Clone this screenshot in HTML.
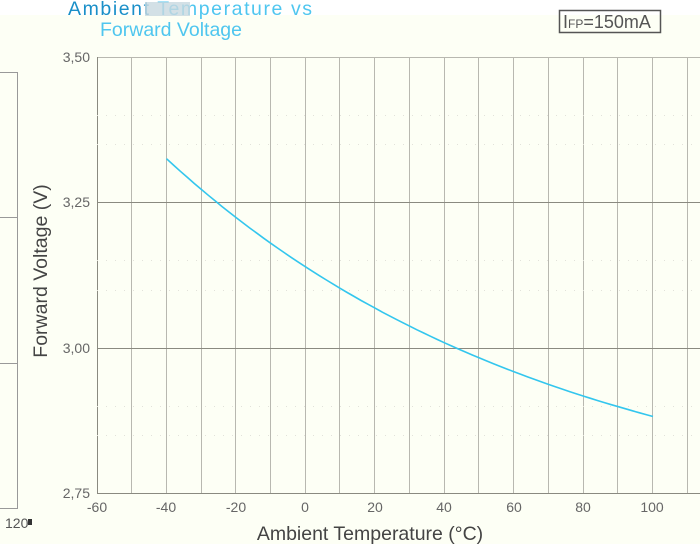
<!DOCTYPE html>
<html><head><meta charset="utf-8"><style>
html,body{margin:0;padding:0;background:#fdfff5;}
svg{display:block;font-family:"Liberation Sans",sans-serif;}
</style></head><body>
<svg width="700" height="544" viewBox="0 0 700 544" xmlns="http://www.w3.org/2000/svg">
<rect width="700" height="544" fill="#fdfff5"/>
<rect width="700" height="15" fill="#ffffff"/>
<path d="M0 72.5 H17.5 V508.5 H0" fill="none" stroke="#999" stroke-width="1"/>
<line x1="0" y1="217.5" x2="17" y2="217.5" stroke="#999"/>
<line x1="0" y1="363.5" x2="17" y2="363.5" stroke="#999"/>
<text x="5" y="528" font-size="14" fill="#555">120</text>
<rect x="28" y="519" width="4" height="6" fill="#333"/>
<g stroke="#b8b8b0" stroke-width="1">
<line x1="131.5" y1="57" x2="131.5" y2="493"/><line x1="166.5" y1="57" x2="166.5" y2="493"/>
<line x1="201.5" y1="57" x2="201.5" y2="493"/><line x1="235.5" y1="57" x2="235.5" y2="493"/>
<line x1="270.5" y1="57" x2="270.5" y2="493"/><line x1="305.5" y1="57" x2="305.5" y2="493"/>
<line x1="339.5" y1="57" x2="339.5" y2="493"/><line x1="374.5" y1="57" x2="374.5" y2="493"/>
<line x1="409.5" y1="57" x2="409.5" y2="493"/><line x1="444.5" y1="57" x2="444.5" y2="493"/>
<line x1="478.5" y1="57" x2="478.5" y2="493"/><line x1="513.5" y1="57" x2="513.5" y2="493"/>
<line x1="548.5" y1="57" x2="548.5" y2="493"/><line x1="583.5" y1="57" x2="583.5" y2="493"/>
<line x1="617.5" y1="57" x2="617.5" y2="493"/><line x1="652.5" y1="57" x2="652.5" y2="493"/>
<line x1="687.5" y1="57" x2="687.5" y2="493"/>
<line x1="97" y1="57.5" x2="700" y2="57.5"/>
</g>
<g stroke="#8a8a80" stroke-width="1">
<line x1="97" y1="202.5" x2="700" y2="202.5"/>
<line x1="97" y1="348.5" x2="700" y2="348.5"/>
<line x1="97" y1="493.5" x2="700" y2="493.5"/>
<line x1="97.5" y1="57" x2="97.5" y2="493"/>
</g>
<g stroke="#e2e2da" stroke-width="1" stroke-dasharray="1 8">
<line x1="97" y1="115.5" x2="700" y2="115.5"/><line x1="97" y1="144.5" x2="700" y2="144.5"/>
<line x1="97" y1="260.5" x2="700" y2="260.5"/><line x1="97" y1="290.5" x2="700" y2="290.5"/>
<line x1="97" y1="406.5" x2="700" y2="406.5"/><line x1="97" y1="435.5" x2="700" y2="435.5"/>
</g>
<path id="curve" fill="none" stroke="#33c6ee" stroke-width="1.6" d="M166 157"/>
<g font-size="14" fill="#666" text-anchor="end">
<text x="90" y="62">3,50</text><text x="90" y="207">3,25</text>
<text x="90" y="353">3,00</text><text x="90" y="498">2,75</text>
</g>
<g font-size="14" fill="#666" text-anchor="middle">
<text x="97" y="512">-60</text><text x="166" y="512">-40</text><text x="236" y="512">-20</text>
<text x="305" y="512">0</text><text x="375" y="512">20</text><text x="444" y="512">40</text>
<text x="514" y="512">60</text><text x="583" y="512">80</text><text x="652" y="512">100</text>
</g>
<text x="370" y="540" font-size="19.5" fill="#444" text-anchor="middle">Ambient Temperature (°C)</text>
<text transform="translate(47,271) rotate(-90)" font-size="19.5" fill="#444" text-anchor="middle">Forward Voltage (V)</text>
<text x="68" y="15" font-size="19.5" fill="#1a8fc8" textLength="244" lengthAdjust="spacing">Ambient <tspan fill="#4fc6ef">Temperature vs</tspan></text>
<rect x="145" y="2" width="45" height="14" fill="#c8d8e0" opacity="0.8"/>
<text x="100" y="36" font-size="19.5" fill="#4fc6ef">Forward Voltage</text>
<rect x="559.5" y="10.5" width="101" height="22" fill="none" stroke="#555" stroke-width="1.5"/>
<text x="563" y="28" font-size="18" fill="#555">I<tspan font-size="12">FP</tspan>=150mA</text>
</svg>
<script>
var d="";
for(var T=-40;T<=100;T+=2){
 var V=2.70+0.625*Math.exp(-0.00884*(T+40));
 var x=97+(T+60)*3.475, y=57+(3.5-V)*581;
 d+=(T==-40?"M":"L")+x.toFixed(1)+" "+y.toFixed(1)+" ";
}
document.getElementById("curve").setAttribute("d",d);
</script>
</body></html>
